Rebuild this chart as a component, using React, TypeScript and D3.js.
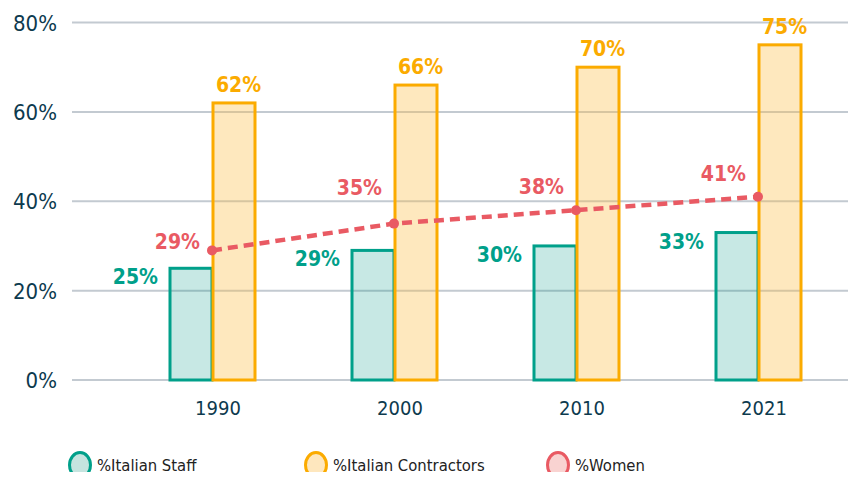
import React, { useEffect, useRef } from "react";
import * as d3 from "d3";

const years = ["1990", "2000", "2010", "2021"];
const italianStaff = [25, 29, 30, 33];
const italianContractors = [62, 66, 70, 75];
const women = [29, 35, 38, 41];
const yTicks = [0, 20, 40, 60, 80];

// label nudges for the women labels (layout only)
const womenLabelDy = [0, -28, -15, -15];

const TEAL = "#00a08a";
const TEAL_FILL = "rgba(0,150,130,0.22)";
const ORANGE = "#fbab00";
const ORANGE_FILL = "rgba(253,190,70,0.35)";
const RED = "#e95a63";
const NAVY = "#0d3a4e";
const FONT = "'DejaVu Sans Condensed', sans-serif";

export default function App() {
  const svgRef = useRef<SVGSVGElement>(null);

  useEffect(() => {
    const w = 856;
    const h = 480;
    const svg = d3.select(svgRef.current);
    svg.selectAll("*").remove();

    const x = d3.scaleBand().domain(years).range([121, 849]).padding(0);
    const y = d3.scaleLinear().domain([0, 80]).range([380, 22.5]);
    const bw = 43;
    const center = (d: string) => (x(d) as number) + x.bandwidth() / 2;

    // grid
    svg.append("g")
      .selectAll("line")
      .data(yTicks)
      .enter()
      .append("line")
      .attr("x1", 72)
      .attr("x2", w)
      .attr("y1", d => y(d))
      .attr("y2", d => y(d))
      .attr("stroke", "#c3cad1")
      .attr("stroke-width", 2);

    svg.append("g")
      .selectAll("text")
      .data(yTicks)
      .enter()
      .append("text")
      .attr("x", 57)
      .attr("y", d => y(d) + 8)
      .attr("text-anchor", "end")
      .style("font-family", FONT)
      .style("font-size", "22px")
      .style("fill", NAVY)
      .text(d => d + "%");

    // x labels
    svg.append("g")
      .selectAll("text")
      .data(years)
      .enter()
      .append("text")
      .attr("x", d => center(d) + 6)
      .attr("y", 415)
      .attr("text-anchor", "middle")
      .style("font-family", FONT)
      .style("font-size", "20px")
      .style("fill", NAVY)
      .text(d => d);

    // staff bars
    svg.append("g")
      .selectAll("rect")
      .data(italianStaff)
      .enter()
      .append("rect")
      .attr("x", (d, i) => center(years[i]) - bw + 1)
      .attr("y", d => y(d))
      .attr("width", bw - 1)
      .attr("height", d => y(0) - y(d))
      .attr("fill", TEAL_FILL)
      .attr("stroke", TEAL)
      .attr("stroke-width", 3);

    // contractor bars
    svg.append("g")
      .selectAll("rect")
      .data(italianContractors)
      .enter()
      .append("rect")
      .attr("x", (d, i) => center(years[i]) + 1)
      .attr("y", d => y(d))
      .attr("width", bw - 1)
      .attr("height", d => y(0) - y(d))
      .attr("fill", ORANGE_FILL)
      .attr("stroke", ORANGE)
      .attr("stroke-width", 3);

    // staff labels
    svg.append("g")
      .selectAll("text")
      .data(italianStaff)
      .enter()
      .append("text")
      .attr("x", (d, i) => center(years[i]) - bw - 11)
      .attr("y", d => y(d) + 16)
      .attr("text-anchor", "end")
      .style("font-family", FONT)
      .style("font-weight", "bold")
      .style("font-size", "21px")
      .style("fill", TEAL)
      .text(d => d + "%");

    // contractor labels
    svg.append("g")
      .selectAll("text")
      .data(italianContractors)
      .enter()
      .append("text")
      .attr("x", (d, i) => center(years[i]) + bw / 2 + 5)
      .attr("y", d => y(d) - 11)
      .attr("text-anchor", "middle")
      .style("font-family", FONT)
      .style("font-weight", "bold")
      .style("font-size", "21px")
      .style("fill", ORANGE)
      .text(d => d + "%");

    // women line
    const line = d3.line<number>()
      .x((d, i) => center(years[i]))
      .y(d => y(d));
    svg.append("path")
      .datum(women)
      .attr("d", line)
      .attr("fill", "none")
      .attr("stroke", RED)
      .attr("stroke-width", 4.5)
      .attr("stroke-dasharray", "10,6");
    svg.append("g")
      .selectAll("circle")
      .data(women)
      .enter()
      .append("circle")
      .attr("cx", (d, i) => center(years[i]))
      .attr("cy", d => y(d))
      .attr("r", 5)
      .attr("fill", RED);
    svg.append("g")
      .selectAll("text")
      .data(women)
      .enter()
      .append("text")
      .attr("x", (d, i) => center(years[i]) - 12)
      .attr("y", (d, i) => y(d) + womenLabelDy[i] - 1)
      .attr("text-anchor", "end")
      .style("font-family", FONT)
      .style("font-weight", "bold")
      .style("font-size", "21px")
      .style("fill", RED)
      .text(d => d + "%");

    // legend
    const legend = [
      { label: "%Italian Staff", stroke: TEAL, fill: "#c5e4df", x: 80 },
      { label: "%Italian Contractors", stroke: ORANGE, fill: "#fee7be", x: 316 },
      { label: "%Women", stroke: RED, fill: "#f9d3d1", x: 558 },
    ];
    const lg = svg.append("g")
      .selectAll("g")
      .data(legend)
      .enter()
      .append("g")
      .attr("transform", d => `translate(${d.x},465)`);
    lg.append("ellipse")
      .attr("rx", 10.5)
      .attr("ry", 12.5)
      .attr("fill", d => d.fill)
      .attr("stroke", d => d.stroke)
      .attr("stroke-width", 3);
    lg.append("text")
      .attr("x", 17)
      .attr("y", 6)
      .style("font-family", FONT)
      .style("font-size", "16.5px")
      .style("fill", "#222")
      .text(d => d.label);

    svg.attr("width", w).attr("height", h);
  }, []);

  return (
    <div style={{ margin: -8 }}>
      <svg ref={svgRef} width={856} height={480} style={{ display: "block" }}></svg>
    </div>
  );
}
